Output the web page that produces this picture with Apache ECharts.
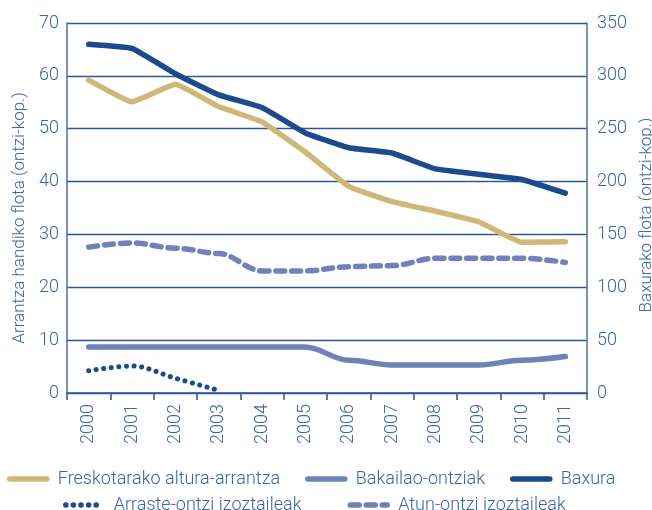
<!DOCTYPE html>
<html>
<head>
<meta charset="utf-8">
<script src="https://cdn.jsdelivr.net/npm/echarts@6/dist/echarts.min.js"></script>
<style>
  html, body { margin: 0; padding: 0; background: #fff; }
  #chart { width: 652px; height: 510px; }
</style>
</head>
<body>
<div id="chart"></div>
<script>
// urteak
let years = ['2000', '2001', '2002', '2003', '2004', '2005', '2006', '2007', '2008', '2009', '2010', '2011'];

// arrantza handiko flota (ezkerreko ardatza)
let freskotarako = [59.2, 55.1, 58.4, 54.2, 51.3, 45.6, 39.1, 36.2, 34.4, 32.4, 28.5, 28.6];
let bakailao = [8.7, 8.7, 8.7, 8.7, 8.7, 8.7, 6.2, 5.3, 5.3, 5.3, 6.2, 6.9];
let arraste = [4.2, 5.1, 2.8, 0.5, null, null, null, null, null, null, null, null];
let atun = [27.6, 28.4, 27.4, 26.4, 23.1, 23.1, 23.9, 24.1, 25.5, 25.5, 25.5, 24.7];

// baxura (eskuineko ardatza)
let baxura = [330, 326, 302, 282, 270, 246, 232, 227, 212, 207, 202, 189];

let names = ['Freskotarako altura-arrantza', 'Bakailao-ontziak', 'Baxura', 'Arraste-ontzi izoztaileak', 'Atun-ontzi izoztaileak'];

const textBlue = '#3d64a3';
const lineBlue = '#2e5799';
const font = 'Roboto';

let dom = document.getElementById('chart');
let myChart = echarts.init(dom);

let legendText = { color: textBlue, fontSize: 18, fontFamily: font, fontWeight: 300, padding: [0, 0, 0, 6] };
let legendBase = {
  itemWidth: 37,
  itemHeight: 10,
  itemStyle: { opacity: 0 },
  lineStyle: { width: 5.5, cap: 'round' },
  textStyle: legendText
};

let option = {
  animation: false,
  textStyle: { fontFamily: font },
  grid: { left: 67, right: 65, top: 23, bottom: 117, outerBoundsMode: 'none', containLabel: false },
  legend: [Object.assign({
    data: names.slice(0, 3),
    left: 2,
    top: 465,
    itemGap: 25
  }, legendBase), Object.assign({
    data: names.slice(3),
    left: 58,
    top: 491,
    itemGap: 46
  }, legendBase)],
  xAxis: {
    type: 'category',
    data: years,
    boundaryGap: true,
    axisLine: { lineStyle: { color: lineBlue, width: 1.5 } },
    axisTick: { show: true, length: 7, lineStyle: { color: lineBlue, width: 1.5 } },
    axisLabel: { rotate: 90, color: textBlue, fontSize: 18, fontFamily: font, fontWeight: 300, margin: 11 }
  },
  yAxis: [{
    type: 'value',
    min: 0,
    max: 70,
    interval: 10,
    name: 'Arrantza handiko flota (ontzi-kop.)',
    nameLocation: 'middle',
    nameGap: 36,
    nameTextStyle: { color: textBlue, fontSize: 17, fontFamily: font, fontWeight: 300, padding: [0, 20, 0, 0] },
    axisLine: { show: true, lineStyle: { color: '#4a70ab', width: 1.5 } },
    axisTick: { show: false },
    axisLabel: { color: textBlue, fontSize: 18, fontFamily: font, fontWeight: 300, margin: 8 },
    splitLine: { show: true, lineStyle: { color: lineBlue, width: 1.3 } }
  }, {
    type: 'value',
    min: 0,
    max: 350,
    interval: 50,
    position: 'right',
    name: 'Baxurako flota (ontzi-kop.)',
    nameLocation: 'middle',
    nameGap: 44,
    nameRotate: 90,
    nameTextStyle: { color: textBlue, fontSize: 17, fontFamily: font, fontWeight: 300, padding: [0, 14, 0, 0] },
    axisLine: { show: true, lineStyle: { color: '#4a70ab', width: 1.5 } },
    axisTick: { show: false },
    axisLabel: { color: textBlue, fontSize: 18, fontFamily: font, fontWeight: 300, margin: 10 },
    splitLine: { show: false }
  }],
  series: [{
    name: names[0],
    type: 'line',
    data: freskotarako,
    symbol: 'none',
    smooth: 0.1,
    lineStyle: { color: '#cdb878', width: 5.5, cap: 'round', join: 'round' },
    itemStyle: { color: '#cdb878' }
  }, {
    name: names[1],
    type: 'line',
    data: bakailao,
    symbol: 'none',
    smooth: 0.35,
    smoothMonotone: 'x',
    lineStyle: { color: '#6e82b8', width: 5.5, cap: 'round', join: 'round' },
    itemStyle: { color: '#6e82b8' }
  }, {
    name: names[2],
    type: 'line',
    yAxisIndex: 1,
    data: baxura,
    symbol: 'none',
    smooth: 0.1,
    lineStyle: { color: '#1b4a8d', width: 5.5, cap: 'round', join: 'round' },
    itemStyle: { color: '#1b4a8d' }
  }, {
    name: names[3],
    type: 'line',
    data: arraste,
    symbol: 'none',
    smooth: 0.35,
    lineStyle: { color: '#1b4a8d', width: 5, type: [0.1, 7.5], cap: 'round' },
    itemStyle: { color: '#1b4a8d' }
  }, {
    name: names[4],
    type: 'line',
    data: atun,
    symbol: 'none',
    smooth: 0.35,
    smoothMonotone: 'x',
    lineStyle: { color: '#7083b8', width: 5.5, type: [9, 7], cap: 'round' },
    itemStyle: { color: '#7083b8' }
  }]
};

myChart.setOption(option);
</script>
</body>
</html>
